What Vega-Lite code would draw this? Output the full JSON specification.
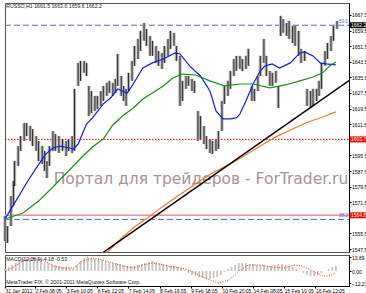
{
  "$schema": "https://vega.github.io/schema/vega-lite/v6.json",
  "padding": {"left": 2, "top": 2, "right": 0, "bottom": 0},
  "spacing": 1,
  "config": {
    "font": "Liberation Sans",
    "view": {"stroke": "#555", "strokeWidth": 1},
    "axis": {"labelFont": "Liberation Sans", "labelFontSize": 5, "labelColor": "#000", "tickColor": "#000", "domainColor": "#000", "tickSize": 2, "labelPadding": 0.5, "grid": false, "labelOverlap": false, "labelFlush": false, "labelBound": false, "tickCount": 100}
  },
  "datasets": {
    "bars": [
      {"i":1,"v":1551.6,"v2":1564.4},{"i":3,"v":1550.6,"v2":1559.3},{"i":6,"v":1559.3,"v2":1574.7},{"i":8,"v":1569.5,"v2":1582.4},{"i":9,"v":1579.8,"v2":1592.6},
      {"i":12,"v":1590.1,"v2":1600.3},{"i":14,"v":1597.8,"v2":1605.4},{"i":17,"v":1602.9,"v2":1612.1},{"i":19,"v":1605.4,"v2":1612.1},{"i":22,"v":1602.9,"v2":1610.6},
      {"i":24,"v":1600.3,"v2":1609.0},{"i":27,"v":1597.8,"v2":1605.4},{"i":29,"v":1592.6,"v2":1602.9},{"i":32,"v":1591.1,"v2":1600.3},{"i":34,"v":1587.5,"v2":1597.8},
      {"i":36,"v":1583.9,"v2":1592.6},{"i":38,"v":1590.1,"v2":1600.3},{"i":41,"v":1597.8,"v2":1608.0},{"i":43,"v":1597.8,"v2":1606.5},{"i":46,"v":1596.7,"v2":1605.4},
      {"i":49,"v":1597.8,"v2":1603.9},{"i":52,"v":1595.2,"v2":1602.9},{"i":54,"v":1597.8,"v2":1603.9},{"i":57,"v":1596.7,"v2":1605.4},{"i":59,"v":1597.8,"v2":1629.6},
      {"i":62,"v":1631.1,"v2":1642.9},{"i":64,"v":1633.7,"v2":1643.9},{"i":67,"v":1637.8,"v2":1643.9},{"i":69,"v":1636.2,"v2":1642.9},{"i":71,"v":1615.7,"v2":1631.1},
      {"i":73,"v":1617.3,"v2":1628.5},{"i":76,"v":1618.3,"v2":1626.0},{"i":78,"v":1619.3,"v2":1626.0},{"i":81,"v":1620.8,"v2":1628.5},{"i":83,"v":1623.4,"v2":1631.1},
      {"i":86,"v":1626.0,"v2":1632.7},{"i":88,"v":1627.5,"v2":1633.7},{"i":91,"v":1626.0,"v2":1632.7},{"i":93,"v":1627.5,"v2":1634.7},{"i":95,"v":1631.1,"v2":1647.5},
      {"i":98,"v":1626.0,"v2":1636.2},{"i":100,"v":1623.4,"v2":1631.1},{"i":102,"v":1620.8,"v2":1629.6},{"i":104,"v":1628.5,"v2":1637.8},{"i":107,"v":1633.7,"v2":1643.9},
      {"i":109,"v":1641.4,"v2":1651.6},{"i":112,"v":1644.9,"v2":1655.2},{"i":114,"v":1649.0,"v2":1659.3},{"i":117,"v":1654.2,"v2":1663.4},{"i":119,"v":1651.6,"v2":1660.3},
      {"i":122,"v":1646.5,"v2":1656.7},{"i":124,"v":1646.5,"v2":1654.2},{"i":127,"v":1642.9,"v2":1651.6},{"i":129,"v":1641.4,"v2":1649.0},{"i":132,"v":1639.8,"v2":1648.0},
      {"i":134,"v":1642.9,"v2":1651.6},{"i":137,"v":1646.5,"v2":1655.2},{"i":139,"v":1650.1,"v2":1659.3},{"i":142,"v":1651.6,"v2":1658.3},{"i":144,"v":1643.9,"v2":1651.6},
      {"i":147,"v":1620.8,"v2":1646.5},{"i":149,"v":1623.4,"v2":1633.7},{"i":152,"v":1629.6,"v2":1636.2},{"i":154,"v":1631.1,"v2":1636.2},{"i":157,"v":1628.5,"v2":1634.7},
      {"i":159,"v":1627.5,"v2":1633.7},{"i":162,"v":1602.9,"v2":1618.3},{"i":164,"v":1603.9,"v2":1615.7},{"i":167,"v":1601.3,"v2":1610.6},{"i":169,"v":1598.8,"v2":1605.4},
      {"i":172,"v":1596.7,"v2":1603.9},{"i":174,"v":1596.2,"v2":1602.9},{"i":177,"v":1597.8,"v2":1603.9},{"i":179,"v":1598.8,"v2":1608.0},{"i":182,"v":1608.0,"v2":1623.4},
      {"i":184,"v":1621.9,"v2":1631.1},{"i":187,"v":1626.0,"v2":1633.7},{"i":189,"v":1629.6,"v2":1638.8},{"i":192,"v":1636.2,"v2":1644.9},{"i":194,"v":1638.8,"v2":1646.5},
      {"i":197,"v":1639.8,"v2":1646.5},{"i":199,"v":1638.8,"v2":1644.9},{"i":202,"v":1639.8,"v2":1646.5},{"i":204,"v":1641.4,"v2":1650.1},{"i":207,"v":1623.4,"v2":1631.1},
      {"i":209,"v":1623.4,"v2":1629.6},{"i":212,"v":1628.5,"v2":1636.2},{"i":214,"v":1636.2,"v2":1646.5},{"i":217,"v":1642.9,"v2":1655.2},{"i":219,"v":1636.2,"v2":1646.5},
      {"i":222,"v":1631.1,"v2":1638.8},{"i":224,"v":1631.1,"v2":1637.8},{"i":227,"v":1632.7,"v2":1638.8},{"i":229,"v":1619.8,"v2":1631.1},{"i":231,"v":1656.7,"v2":1667.0},
      {"i":233,"v":1658.3,"v2":1665.4},{"i":236,"v":1656.7,"v2":1663.4},{"i":238,"v":1655.2,"v2":1664.4},{"i":241,"v":1653.1,"v2":1661.9},{"i":243,"v":1651.6,"v2":1661.9},
      {"i":246,"v":1646.5,"v2":1659.3},{"i":248,"v":1642.9,"v2":1650.1},{"i":251,"v":1643.9,"v2":1649.0},{"i":253,"v":1620.8,"v2":1629.6},{"i":256,"v":1619.8,"v2":1628.5},
      {"i":258,"v":1620.8,"v2":1629.6},{"i":261,"v":1623.4,"v2":1629.6},{"i":263,"v":1626.0,"v2":1633.7},{"i":265,"v":1629.6,"v2":1642.9},{"i":268,"v":1641.4,"v2":1649.0},
      {"i":270,"v":1644.9,"v2":1653.1},{"i":273,"v":1649.0,"v2":1656.7},{"i":275,"v":1654.2,"v2":1661.9},{"i":278,"v":1660.3,"v2":1664.4}
    ],
    "ma": [
      {"i":1,"v":1562.9,"s":"b"},{"i":10,"v":1572.1,"s":"b"},{"i":20,"v":1582.4,"s":"b"},{"i":27,"v":1589.0,"s":"b"},{"i":35,"v":1596.2,"s":"b"},{"i":41,"v":1599.3,"s":"b"},{"i":47,"v":1600.3,"s":"b"},{"i":55,"v":1599.3,"s":"b"},{"i":58,"v":1598.8,"s":"b"},{"i":62,"v":1601.3,"s":"b"},{"i":69,"v":1611.6,"s":"b"},{"i":74,"v":1614.7,"s":"b"},{"i":83,"v":1621.9,"s":"b"},{"i":89,"v":1624.9,"s":"b"},{"i":95,"v":1629.5,"s":"b"},{"i":99,"v":1628.5,"s":"b"},{"i":103,"v":1627.5,"s":"b"},{"i":108,"v":1632.1,"s":"b"},{"i":116,"v":1640.3,"s":"b"},{"i":124,"v":1642.9,"s":"b"},{"i":133,"v":1644.9,"s":"b"},{"i":143,"v":1648.0,"s":"b"},{"i":147,"v":1647.5,"s":"b"},{"i":155,"v":1641.4,"s":"b"},{"i":164,"v":1636.2,"s":"b"},{"i":172,"v":1628.5,"s":"b"},{"i":177,"v":1618.3,"s":"b"},{"i":183,"v":1614.2,"s":"b"},{"i":189,"v":1614.2,"s":"b"},{"i":194,"v":1614.7,"s":"b"},{"i":197,"v":1616.7,"s":"b"},{"i":202,"v":1623.4,"s":"b"},{"i":208,"v":1632.1,"s":"b"},{"i":214,"v":1638.8,"s":"b"},{"i":218,"v":1641.4,"s":"b"},{"i":224,"v":1642.4,"s":"b"},{"i":230,"v":1640.3,"s":"b"},{"i":239,"v":1642.9,"s":"b"},{"i":247,"v":1648.0,"s":"b"},{"i":251,"v":1648.5,"s":"b"},{"i":258,"v":1646.5,"s":"b"},{"i":264,"v":1642.9,"s":"b"},{"i":269,"v":1642.4,"s":"b"},{"i":277,"v":1641.9,"s":"b"},
      {"i":1,"v":1562.9,"s":"g"},{"i":16,"v":1566.0,"s":"g"},{"i":29,"v":1572.1,"s":"g"},{"i":41,"v":1579.3,"s":"g"},{"i":54,"v":1587.5,"s":"g"},{"i":66,"v":1595.2,"s":"g"},{"i":74,"v":1599.8,"s":"g"},{"i":83,"v":1603.9,"s":"g"},{"i":91,"v":1611.1,"s":"g"},{"i":99,"v":1615.7,"s":"g"},{"i":108,"v":1619.8,"s":"g"},{"i":116,"v":1624.4,"s":"g"},{"i":124,"v":1627.5,"s":"g"},{"i":133,"v":1631.1,"s":"g"},{"i":141,"v":1635.2,"s":"g"},{"i":149,"v":1637.2,"s":"g"},{"i":160,"v":1636.7,"s":"g"},{"i":172,"v":1633.7,"s":"g"},{"i":184,"v":1631.1,"s":"g"},{"i":197,"v":1632.1,"s":"g"},{"i":208,"v":1632.1,"s":"g"},{"i":222,"v":1630.1,"s":"g"},{"i":235,"v":1631.6,"s":"g"},{"i":247,"v":1633.7,"s":"g"},{"i":258,"v":1635.7,"s":"g"},{"i":266,"v":1637.8,"s":"g"},{"i":272,"v":1641.4,"s":"g"},{"i":277,"v":1643.4,"s":"g"},
      {"i":85,"v":1545.0,"s":"o"},{"i":99,"v":1553.6,"s":"o"},{"i":110,"v":1559.3,"s":"o"},{"i":122,"v":1564.4,"s":"o"},{"i":133,"v":1569.5,"s":"o"},{"i":144,"v":1574.2,"s":"o"},{"i":155,"v":1578.8,"s":"o"},{"i":166,"v":1583.4,"s":"o"},{"i":177,"v":1587.5,"s":"o"},{"i":189,"v":1591.1,"s":"o"},{"i":199,"v":1594.7,"s":"o"},{"i":214,"v":1600.3,"s":"o"},{"i":227,"v":1605.0,"s":"o"},{"i":241,"v":1609.0,"s":"o"},{"i":254,"v":1612.6,"s":"o"},{"i":266,"v":1615.2,"s":"o"},{"i":277,"v":1617.8,"s":"o"}
    ],
    "trend": [{"i":83,"v":1545.8},{"i":288,"v":1633.8}],
    "macd": [
      {"i":1,"v":2},{"i":4,"v":4},{"i":7,"v":6},{"i":10,"v":8},{"i":13,"v":10},{"i":16,"v":12},{"i":19,"v":12},{"i":22,"v":13},{"i":25,"v":13},{"i":28,"v":12},
      {"i":31,"v":11},{"i":34,"v":9},{"i":37,"v":8},{"i":40,"v":7},{"i":43,"v":6},{"i":46,"v":5},{"i":49,"v":4},{"i":52,"v":4},{"i":55,"v":3},{"i":58,"v":3},
      {"i":61,"v":6},{"i":64,"v":10},{"i":67,"v":13},{"i":70,"v":14},{"i":73,"v":13},{"i":76,"v":12},{"i":79,"v":12},{"i":82,"v":11},{"i":85,"v":10},{"i":88,"v":9},
      {"i":91,"v":8},{"i":94,"v":8},{"i":97,"v":7},{"i":100,"v":6},{"i":103,"v":5},{"i":106,"v":5},{"i":109,"v":5},{"i":112,"v":6},{"i":115,"v":7},{"i":118,"v":8},
      {"i":121,"v":9},{"i":124,"v":10},{"i":127,"v":9},{"i":130,"v":8},{"i":133,"v":7},{"i":136,"v":6},{"i":139,"v":5},{"i":142,"v":5},{"i":145,"v":4},{"i":148,"v":3},
      {"i":151,"v":1},{"i":154,"v":-2},{"i":157,"v":-4},{"i":160,"v":-5},{"i":163,"v":-6},{"i":166,"v":-7},{"i":169,"v":-8},{"i":172,"v":-8},{"i":175,"v":-7},{"i":178,"v":-6},
      {"i":181,"v":-4},{"i":184,"v":-1},{"i":187,"v":2},{"i":190,"v":4},{"i":193,"v":6},{"i":196,"v":8},{"i":199,"v":8},{"i":202,"v":8},{"i":205,"v":7},{"i":208,"v":7},
      {"i":211,"v":6},{"i":214,"v":6},{"i":217,"v":6},{"i":220,"v":5},{"i":223,"v":5},{"i":226,"v":6},{"i":229,"v":7},{"i":232,"v":7},{"i":235,"v":6},{"i":238,"v":5},
      {"i":241,"v":4},{"i":244,"v":2},{"i":247,"v":0},{"i":250,"v":-2},{"i":253,"v":-4},{"i":256,"v":-5},{"i":259,"v":-5},{"i":262,"v":-4},{"i":265,"v":-2},{"i":268,"v":0},
      {"i":271,"v":2},{"i":274,"v":4},{"i":277,"v":5}
    ],
    "sig": [
      {"i":2,"v":0},{"i":8,"v":4},{"i":16,"v":10},{"i":24,"v":13},{"i":33,"v":11},{"i":41,"v":5},{"i":49,"v":3},{"i":58,"v":3},{"i":66,"v":10},{"i":74,"v":13},
      {"i":83,"v":11},{"i":91,"v":8},{"i":99,"v":5},{"i":108,"v":3},{"i":116,"v":6},{"i":124,"v":8},{"i":133,"v":6},{"i":141,"v":4},{"i":149,"v":3},{"i":158,"v":-1},
      {"i":166,"v":-6},{"i":174,"v":-10},{"i":179,"v":-12},{"i":188,"v":-9},{"i":196,"v":0},{"i":204,"v":6},{"i":213,"v":6},{"i":224,"v":4},{"i":233,"v":3},{"i":243,"v":6},
      {"i":249,"v":5},{"i":258,"v":0},{"i":266,"v":-5},{"i":271,"v":-5},{"i":277,"v":-2}
    ]
  },
  "vconcat": [
    {
      "width": 344,
      "height": 249,
      "layer": [
        {
          "data": {"values": [{"t": "Портал для трейдеров - ForTrader.ru"}]},
          "mark": {"type": "text", "font": "DejaVu Sans", "fontSize": 15.5, "color": "#a39595", "align": "center", "baseline": "middle"},
          "encoding": {"x": {"datum": 164.5, "type": "quantitative", "axis": null},
                       "y": {"datum": 1583.4, "type": "quantitative", "axis": {"orient": "right", "title": null, "labelOverlap": false, "tickCount": 100, "format": ".1f", "labelBaseline": "middle", "values": [1667.5, 1659.5, 1651.5, 1643.5, 1635.5, 1627.5, 1619.5, 1611.5, 1595.5, 1587.5, 1579.5, 1571.5, 1555.5, 1547.5]}},
                       "text": {"field": "t"}}
        },
        {
          "encoding": {
            "x": {"field": "i", "type": "quantitative", "scale": {"domain": [1, 288], "nice": false, "zero": false}, "axis": null},
            "y": {"field": "v", "type": "quantitative", "scale": {"domain": [1546, 1673.6], "nice": false, "zero": false},
                  "axis": {"orient": "right", "title": null, "labelOverlap": false, "tickCount": 100, "format": ".1f", "labelBaseline": "middle", "values": [1667.5, 1659.5, 1651.5, 1643.5, 1635.5, 1627.5, 1619.5, 1611.5, 1595.5, 1587.5, 1579.5, 1571.5, 1555.5, 1547.5]}}
          },
          "layer": [
            {
              "data": {"values": [{"i": 1, "i2": 288, "v": 1603.7}]},
              "mark": {"type": "rule", "color": "#ff0000", "strokeWidth": 1, "strokeDash": [1.5, 1.5]},
              "encoding": {"x2": {"field": "i2"}}
            },
            {
              "data": {"values": [{"i": 1, "i2": 288, "v": 1564.8}]},
              "mark": {"type": "rule", "color": "#f39090", "strokeWidth": 1.5},
              "encoding": {"x2": {"field": "i2"}}
            },
            {
              "data": {"values": [{"i": 1, "i2": 288, "v": 1662.2}, {"i": 1, "i2": 288, "v": 1562.7}]},
              "mark": {"type": "rule", "color": "#5c5cdc", "strokeWidth": 1, "strokeDash": [6, 3]},
              "encoding": {"x2": {"field": "i2"}}
            },
            {
              "data": {"name": "bars"},
              "mark": {"type": "rule", "color": "#b4b4b4", "strokeWidth": 3.2},
              "encoding": {"y2": {"field": "v2"}}
            },
            {
              "data": {"name": "bars"},
              "mark": {"type": "rule", "color": "#2a2a2a", "strokeWidth": 1},
              "encoding": {"y2": {"field": "v2"}}
            },
            {
              "data": {"name": "ma"},
              "mark": {"type": "line", "strokeWidth": 1.2, "clip": true},
              "encoding": {"color": {"field": "s", "type": "nominal", "legend": null, "scale": {"domain": ["b", "g", "o"], "range": ["#1515f5", "#139113", "#ef7a22"]}}}
            },
            {
              "data": {"name": "trend"},
              "mark": {"type": "line", "color": "#000", "strokeWidth": 1.5, "clip": true},
              "encoding": {}
            }
          ]
        },
        {
          "data": {"values": [{"t": "RUSSO,H1  1661.5 1663.6 1659.6 1662.2"}]},
          "mark": {"type": "text", "fontSize": 5.2, "color": "#222", "align": "left", "baseline": "middle"},
          "encoding": {"x": {"datum": 2, "type": "quantitative", "axis": null},
                       "y": {"datum": 1672.1, "type": "quantitative", "axis": {"orient": "right", "title": null, "labelOverlap": false, "tickCount": 100}},
                       "text": {"field": "t"}}
        },
        {
          "data": {"values": [{"t": "50.0", "v": 1662.9}, {"t": "38.2", "v": 1563.4}]},
          "mark": {"type": "text", "fontSize": 5, "color": "#5c5cdc", "align": "right", "baseline": "bottom"},
          "encoding": {"x": {"datum": 287.5, "type": "quantitative", "axis": null},
                       "y": {"field": "v", "type": "quantitative", "axis": {"orient": "right", "title": null, "labelOverlap": false, "tickCount": 100}},
                       "text": {"field": "t"}}
        },
        {
          "data": {"values": [{"v": 1662.2}]},
          "mark": {"type": "tick", "orient": "horizontal", "thickness": 6, "size": 17, "color": "#000", "opacity": 1},
          "encoding": {"x": {"datum": 296, "type": "quantitative", "axis": null},
                       "y": {"field": "v", "type": "quantitative", "axis": {"orient": "right", "title": null, "labelOverlap": false, "tickCount": 100}}}
        },
        {
          "data": {"values": [{"v": 1603.7}, {"v": 1564.8}]},
          "mark": {"type": "tick", "orient": "horizontal", "thickness": 6, "size": 17, "color": "#ff0000", "opacity": 1},
          "encoding": {"x": {"datum": 296, "type": "quantitative", "axis": null},
                       "y": {"field": "v", "type": "quantitative", "axis": {"orient": "right", "title": null, "labelOverlap": false, "tickCount": 100}}}
        },
        {
          "data": {"values": [{"v": 1662.2}, {"v": 1603.7}, {"v": 1564.8}]},
          "mark": {"type": "text", "fontSize": 5, "color": "#fff", "align": "center", "baseline": "middle"},
          "encoding": {"x": {"datum": 296, "type": "quantitative", "axis": null},
                       "y": {"field": "v", "type": "quantitative", "axis": {"orient": "right", "title": null, "labelOverlap": false, "tickCount": 100}},
                       "text": {"field": "v", "type": "quantitative", "format": ".1f"}}
        }
      ]
    },
    {
      "width": 344,
      "height": 31,
      "layer": [
        {
          "encoding": {
            "x": {"field": "i", "type": "quantitative", "scale": {"domain": [1, 288], "nice": false, "zero": false},
                  "axis": {"title": null, "labelOverlap": false, "tickCount": 100, "values": [1, 26, 52, 78, 104, 130, 156, 182, 208, 234, 260], "labelAlign": "left", "labelFontSize": 4.9,
                           "labelExpr": "['31 Jan 2012','2 Feb 08:05','3 Feb 10:05','6 Feb 12:05','7 Feb 14:05','8 Feb 16:05','9 Feb 18:05','10 Feb 20:05','14 Feb 08:05','15 Feb 10:05','16 Feb 12:05'][indexof([1,26,52,78,104,130,156,182,208,234,260], datum.value)]"}},
            "y": {"field": "v", "type": "quantitative", "scale": {"domain": [-15, 16], "nice": false, "zero": false},
                  "axis": {"orient": "right", "title": null, "labelOverlap": false, "tickCount": 100, "values": [13.89, 0, -12.23], "format": ".2f", "labelBaseline": "middle"}}
          },
          "layer": [
            {
              "data": {"name": "macd"},
              "mark": {"type": "rule", "color": "#c4c4c4", "strokeWidth": 1.8},
              "encoding": {"y2": {"datum": 0}}
            },
            {
              "data": {"name": "sig"},
              "mark": {"type": "line", "color": "#ff2020", "strokeWidth": 1, "strokeDash": [1, 1.5]},
              "encoding": {}
            }
          ]
        },
        {
          "data": {"values": [{"t": "MACD(12,26,9) 4.18 -0.53", "v": 12}, {"t": "MetaTrader FIX, © 2001-2011 MetaQuotes Software Corp.", "v": -11}]},
          "mark": {"type": "text", "fontSize": 5.2, "color": "#222", "align": "left", "baseline": "middle"},
          "encoding": {"x": {"datum": 2, "type": "quantitative", "axis": {"title": null, "labelOverlap": false, "tickCount": 100}},
                       "y": {"field": "v", "type": "quantitative", "axis": {"orient": "right", "title": null, "labelOverlap": false, "tickCount": 100}},
                       "text": {"field": "t"}}
        }
      ]
    }
  ]
}
